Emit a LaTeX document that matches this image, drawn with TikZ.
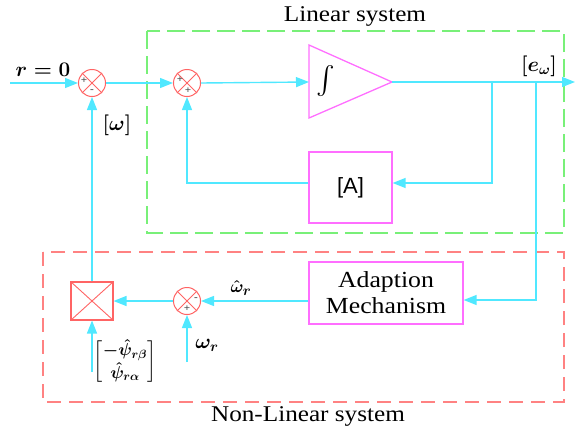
\documentclass[tikz,border=0pt]{standalone}
\usepackage{amsmath}
\usepackage{graphicx}
\usepackage{fontspec}
\setmainfont{Liberation Serif}[FakeStretch=1.12]
\newfontfamily\sansA{Liberation Sans}
\usetikzlibrary{arrows.meta}
\definecolor{sigc}{RGB}{80,232,255}
\definecolor{boxm}{RGB}{255,110,255}
\definecolor{grn}{RGB}{120,240,120}
\definecolor{redd}{RGB}{255,130,130}
\definecolor{sumr}{RGB}{255,100,100}
\begin{document}
\begin{tikzpicture}[x=1pt,y=-1pt,
  sig/.style={draw=sigc,line width=1.4pt},
  arr/.style={sig,-{Triangle[length=13pt,width=10pt,fill=sigc]}},
  sumnode/.style={circle,draw=sumr,line width=1pt,minimum size=27pt,inner sep=0pt},
  blockbox/.style={draw=boxm,line width=1.3pt,fill=white,inner sep=0pt},
  sgn/.style={font=\fontsize{10}{10}\selectfont\bfseries,text=black!70,inner sep=0pt},
  lbl/.style={font=\fontsize{21}{24}\selectfont\boldmath,inner sep=0pt},
  ttl/.style={font=\fontsize{22.5}{26}\selectfont,inner sep=0pt}]
\useasboundingbox (0,0) rectangle (575,431);
% group frames
\draw[grn,line width=1.3pt,dash pattern=on 18pt off 7pt] (147,31) rectangle (564,233);
\draw[redd,line width=1.3pt,dash pattern=on 14pt off 8pt] (43,252) rectangle (564,402);
\node[ttl] (tlin) at (355,16) {Linear system};
\node[ttl] (tnl) at (308,416) {Non-Linear system};
% summers
\node[sumnode] (s1) at (92,83) {};
\node[sumnode] (s2) at (187,83) {};
\node[sumnode] (s3) at (187,301) {};
\foreach \s in {s1,s2,s3}{
  \draw[sumr,line width=0.9pt] (\s.north west) -- (\s.south east) (\s.north east) -- (\s.south west);}
\node[sgn] (p1) at (84,81) {+};
\node[sgn] (m1) at (92,91) {-};
\node[sgn] (p2) at (180,80) {+};
\node[sgn] (p2b) at (188,91) {+};
\node[sgn] (m3) at (196,299) {-};
\node[sgn] (p3) at (187,309) {+};
% integrator
\draw[boxm,line width=1.3pt] (309,45) -- (392,82) -- (309,118) -- cycle;
\coordinate (intin) at (309,82);
\coordinate (intout) at (392,82);
\node[inner sep=0pt] (intg) at (326,81) {\scalebox{1.35}{\fontsize{20}{20}\selectfont$\int$}};
% blocks
\node[blockbox,minimum width=83pt,minimum height=71pt,font=\sansA\fontsize{22}{26}\selectfont] (A) at (350.5,187.5) {[A]};
\node[blockbox,minimum width=154pt,minimum height=62pt,align=center,font=\fontsize{23}{26}\selectfont] (ad) at (386,293) {Adaption\\Mechanism};
\node[draw=sumr,line width=1.1pt,minimum width=42pt,minimum height=38pt,inner sep=0pt] (mult) at (92,301) {};
\draw[sumr,line width=0.9pt] (mult.north west) -- (mult.south east) (mult.north east) -- (mult.south west);
% free ends
\coordinate (in) at (10,83);
\coordinate (out) at (575,82);
\coordinate (b1) at (492,82);
\coordinate (b2) at (536,82);
\coordinate (wr) at (187,362);
\coordinate (psi) at (92,372);
% connectors
\draw[arr] (in) -- (s1.west);
\draw[arr] (s1.east) -- (s2.west);
\draw[arr] (s2.east) -- (intin);
\draw[arr] (intout) -- (out);
\draw[arr] (b1) |- ([yshift=4.5pt]A.east);
\draw[arr] (b2) |- ([yshift=-7pt]ad.east);
\draw[arr] ([yshift=4.5pt]A.west) -| (s2.south);
\draw[arr] (ad.west |- s3) -- (s3.east);
\draw[arr] (wr) -- (s3.south);
\draw[arr] (s3.west) -- (mult.east);
\draw[arr] (psi) -- (mult.south);
\draw[arr] (mult.north) -- (s1.south);
% labels
\node[lbl] (lr) at (43,70) {$r=0$};
\node[lbl] (lw) at (117,125) {$[\omega]$};
\node[lbl] (le) at (539,66) {$[e_\omega]$};
\node[lbl,font=\fontsize{19}{22}\selectfont\boldmath] (lwh) at (241,288) {$\hat{\omega}_r$};
\node[lbl] (lwr) at (207,345) {$\omega_r$};
\node[lbl,font=\fontsize{18}{21}\selectfont\boldmath] (lpsi) at (125,362) {$\begin{bmatrix}-\hat{\psi}_{r\beta}\\ \hat{\psi}_{r\alpha}\end{bmatrix}$};
\end{tikzpicture}
\end{document}
